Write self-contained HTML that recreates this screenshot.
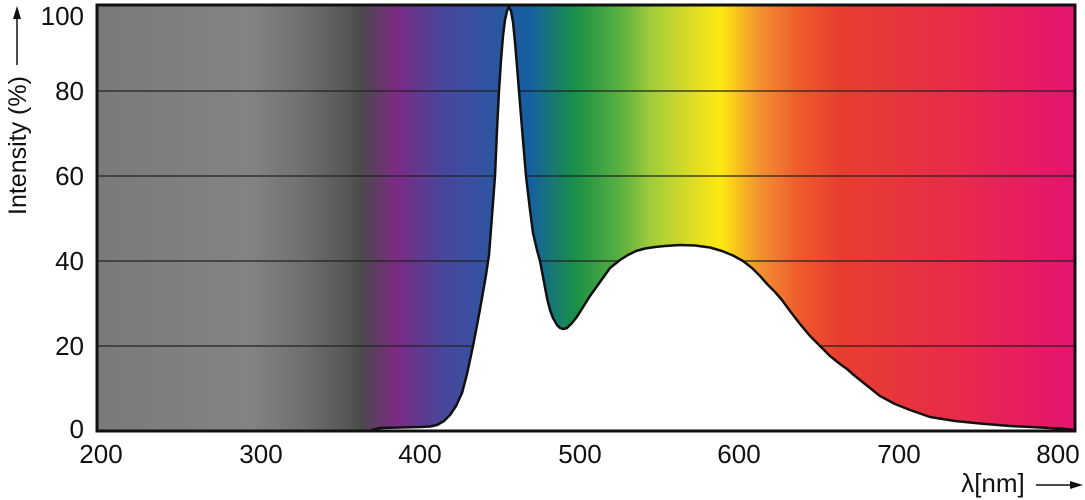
<!DOCTYPE html>
<html><head><style>
html,body{margin:0;padding:0;background:#fff;}
svg{display:block;font-family:"Liberation Sans",Arial,sans-serif;}
</style></head><body>
<svg width="1085" height="500" viewBox="0 0 1085 500" xmlns="http://www.w3.org/2000/svg">
<defs>
<linearGradient id="sp" gradientUnits="userSpaceOnUse" x1="97" y1="0" x2="1075" y2="0">
<stop offset="0" stop-color="#7a7a7a"/>
<stop offset="0.156" stop-color="#838383"/>
<stop offset="0.21" stop-color="#707070"/>
<stop offset="0.258" stop-color="#555555"/>
<stop offset="0.27" stop-color="#4a4a4a"/>
<stop offset="0.306" stop-color="#7d2a85"/>
<stop offset="0.35" stop-color="#4a459a"/>
<stop offset="0.38" stop-color="#3c4ea0"/>
<stop offset="0.443" stop-color="#1560a0"/>
<stop offset="0.489" stop-color="#1a9048"/>
<stop offset="0.535" stop-color="#5ab040"/>
<stop offset="0.566" stop-color="#a0cc3a"/>
<stop offset="0.617" stop-color="#e8e020"/>
<stop offset="0.637" stop-color="#fcea10"/>
<stop offset="0.678" stop-color="#f29030"/>
<stop offset="0.719" stop-color="#ee5a2c"/>
<stop offset="0.76" stop-color="#e83e30"/>
<stop offset="0.872" stop-color="#e82c48"/>
<stop offset="1" stop-color="#e41470"/>
</linearGradient>
</defs>
<rect x="97" y="5" width="978" height="426" fill="url(#sp)"/>
<g stroke="#222" stroke-width="1.2">
<line x1="97" y1="91" x2="1075" y2="91"/>
<line x1="97" y1="176" x2="1075" y2="176"/>
<line x1="97" y1="261" x2="1075" y2="261"/>
<line x1="97" y1="346" x2="1075" y2="346"/>
</g>
<path fill="#fff" stroke="#111" stroke-width="2.5" stroke-linejoin="round" d="M372,430 L380,428 L400,427.5 L420,427 L430,426.5 L437,425 L444,421 L450,415 L456,406 L462,393 L467,374 L473,346 L478,320 L482,298 L486,275 L489,255 L492,216 L495,176 L497,130 L499,91 L501,60 L503,36 L505,20 L507,11 L509,7 L511,11 L513,22 L515,42 L517,66 L519,91 L522,128 L526,176 L530,210 L533,233 L537,250 L540,261 L544,282 L547,298 L550,310 L553,318 L557,325 L560,328 L563,329 L567,328 L572,323 L576,318 L580,312 L585,304 L590,296 L595,289 L600,282 L605,275 L610,268 L615,264 L620,260 L628,255 L636,251 L645,248.5 L655,247 L665,246 L680,245 L695,245.5 L710,247.5 L722,251 L733,255.5 L743,261 L752,268 L760,276 L768,285 L775,292 L782,300 L790,311 L800,324 L810,336 L820,346 L830,356 L840,364 L847,369 L855,376 L865,384 L880,396 L895,404 L910,410 L930,417 L955,421 L980,423.5 L1010,426 L1040,427.5 L1060,428.5 L1075,430 L1075,431 L372,431 Z"/>
<rect x="97" y="5" width="978" height="426" fill="none" stroke="#111" stroke-width="3"/>
<g font-size="26" fill="#111" text-anchor="end">
<text x="84" y="25">100</text>
<text x="84" y="100">80</text>
<text x="84" y="185">60</text>
<text x="84" y="270">40</text>
<text x="84" y="355">20</text>
<text x="84" y="438">0</text>
</g>
<g font-size="26" fill="#111" text-anchor="middle">
<text x="101" y="463">200</text>
<text x="261" y="463">300</text>
<text x="420" y="463">400</text>
<text x="580" y="463">500</text>
<text x="739" y="463">600</text>
<text x="899" y="463">700</text>
<text x="1058" y="463">800</text>
<text x="993" y="492">λ[nm]</text>
</g>
<line x1="1036" y1="485" x2="1074" y2="485" stroke="#111" stroke-width="1.5"/>
<path d="M1083,485 L1070,481 L1070,489 Z" fill="#111"/>
<g transform="translate(26,215) rotate(-90)">
<text x="0" y="0" font-size="25" fill="#111">Intensity (%)</text>
<line x1="150" y1="-9" x2="200" y2="-9" stroke="#111" stroke-width="1.5"/>
<path d="M209,-9 L196,-13 L196,-5 Z" fill="#111"/>
</g>
</svg>
</body></html>
